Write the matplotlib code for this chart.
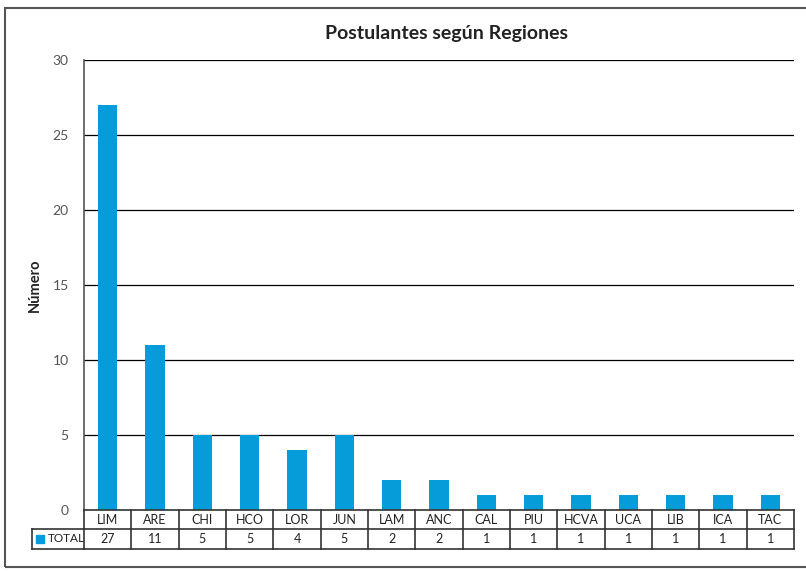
import matplotlib
matplotlib.use("Agg")
import matplotlib.pyplot as plt
from matplotlib.patches import Rectangle

categories = ["LIM", "ARE", "CHI", "HCO", "LOR", "JUN", "LAM", "ANC", "CAL", "PIU", "HCVA", "UCA", "LIB", "ICA", "TAC"]
values = [27, 11, 5, 5, 4, 5, 2, 2, 1, 1, 1, 1, 1, 1, 1]
series_name = "TOTAL"
yticks = [0, 5, 10, 15, 20, 25, 30]

plt.rcParams['font.family'] = ['Lato', 'DejaVu Sans']
W, H = 806, 571
fig = plt.figure(figsize=(W/100, H/100), dpi=100)
color = '#069BD9'

L, R, T, B = 84, 794, 60, 510
ax = fig.add_axes([L/W, 1-B/H, (R-L)/W, (B-T)/H])
n = len(categories)
x = list(range(n))
ax.bar(x, values, width=0.41, color=color, zorder=3)
ax.set_xlim(-0.5, n-0.5)
ax.set_ylim(0, 30)
ax.set_yticks(yticks)
ax.set_yticklabels([str(v) for v in yticks], color='#555555', fontsize=10)
ax.tick_params(axis='y', length=0, pad=11)
ax.set_xticks([])
for v in yticks[1:]:
    ax.axhline(v, color='black', lw=0.9, zorder=1)
for s in ['top', 'right', 'bottom']:
    ax.spines[s].set_visible(False)
ax.spines['left'].set_color('#555555')
ax.spines['left'].set_linewidth(1.2)

# table
px = 30/(B-T)
row1 = -19*px
row2 = -39*px
lk = dict(color='#333333', lw=1.2, clip_on=False, zorder=4)
ax.plot([-0.5, n-0.5], [0, 0], **lk)
ax.plot([-0.5, n-0.5], [row1, row1], **lk)
ax.plot([-0.5, n-0.5], [row2, row2], **lk)
for i in range(n+1):
    ax.plot([i-0.5, i-0.5], [0, row2], **lk)
colw = (R-L)/n
lab_left = -0.5 - (L-32)/colw
ax.plot([lab_left, -0.5], [row1, row1], **lk)
ax.plot([lab_left, -0.5], [row2, row2], **lk)
ax.plot([lab_left, lab_left], [row1, row2], **lk)
fs = 9
for i, (c, v) in enumerate(zip(categories, values)):
    ax.text(i, row1/2, c, ha='center', va='center', fontsize=fs, color='#222222', clip_on=False)
    ax.text(i, (row1+row2)/2, str(v), ha='center', va='center', fontsize=fs, color='#222222', clip_on=False)
sq = lab_left + 4/colw
ax.add_patch(Rectangle((sq, (row1+row2)/2 - 4*px), 8/colw, 8*px, color=color, clip_on=False, zorder=5))
ax.text(lab_left + 16/colw, (row1+row2)/2, series_name, ha='left', va='center', fontsize=8.5, color='#222222', clip_on=False)

# titles
fig.text(447/W, 1-33/H, "Postulantes según Regiones", ha='center', va='center', fontsize=14, fontweight='bold', color='#222222')
fig.text(35/W, 1-285/H, "Número", ha='center', va='center', rotation=90, fontsize=10.5, fontweight='bold', color='#222222')

# outer border
fig.patches.append(Rectangle((5/W, 1-567/H), 810/W, 559/H, transform=fig.transFigure, fill=False, edgecolor='#555555', lw=1.5))

fig.savefig('out.png', dpi=100)
